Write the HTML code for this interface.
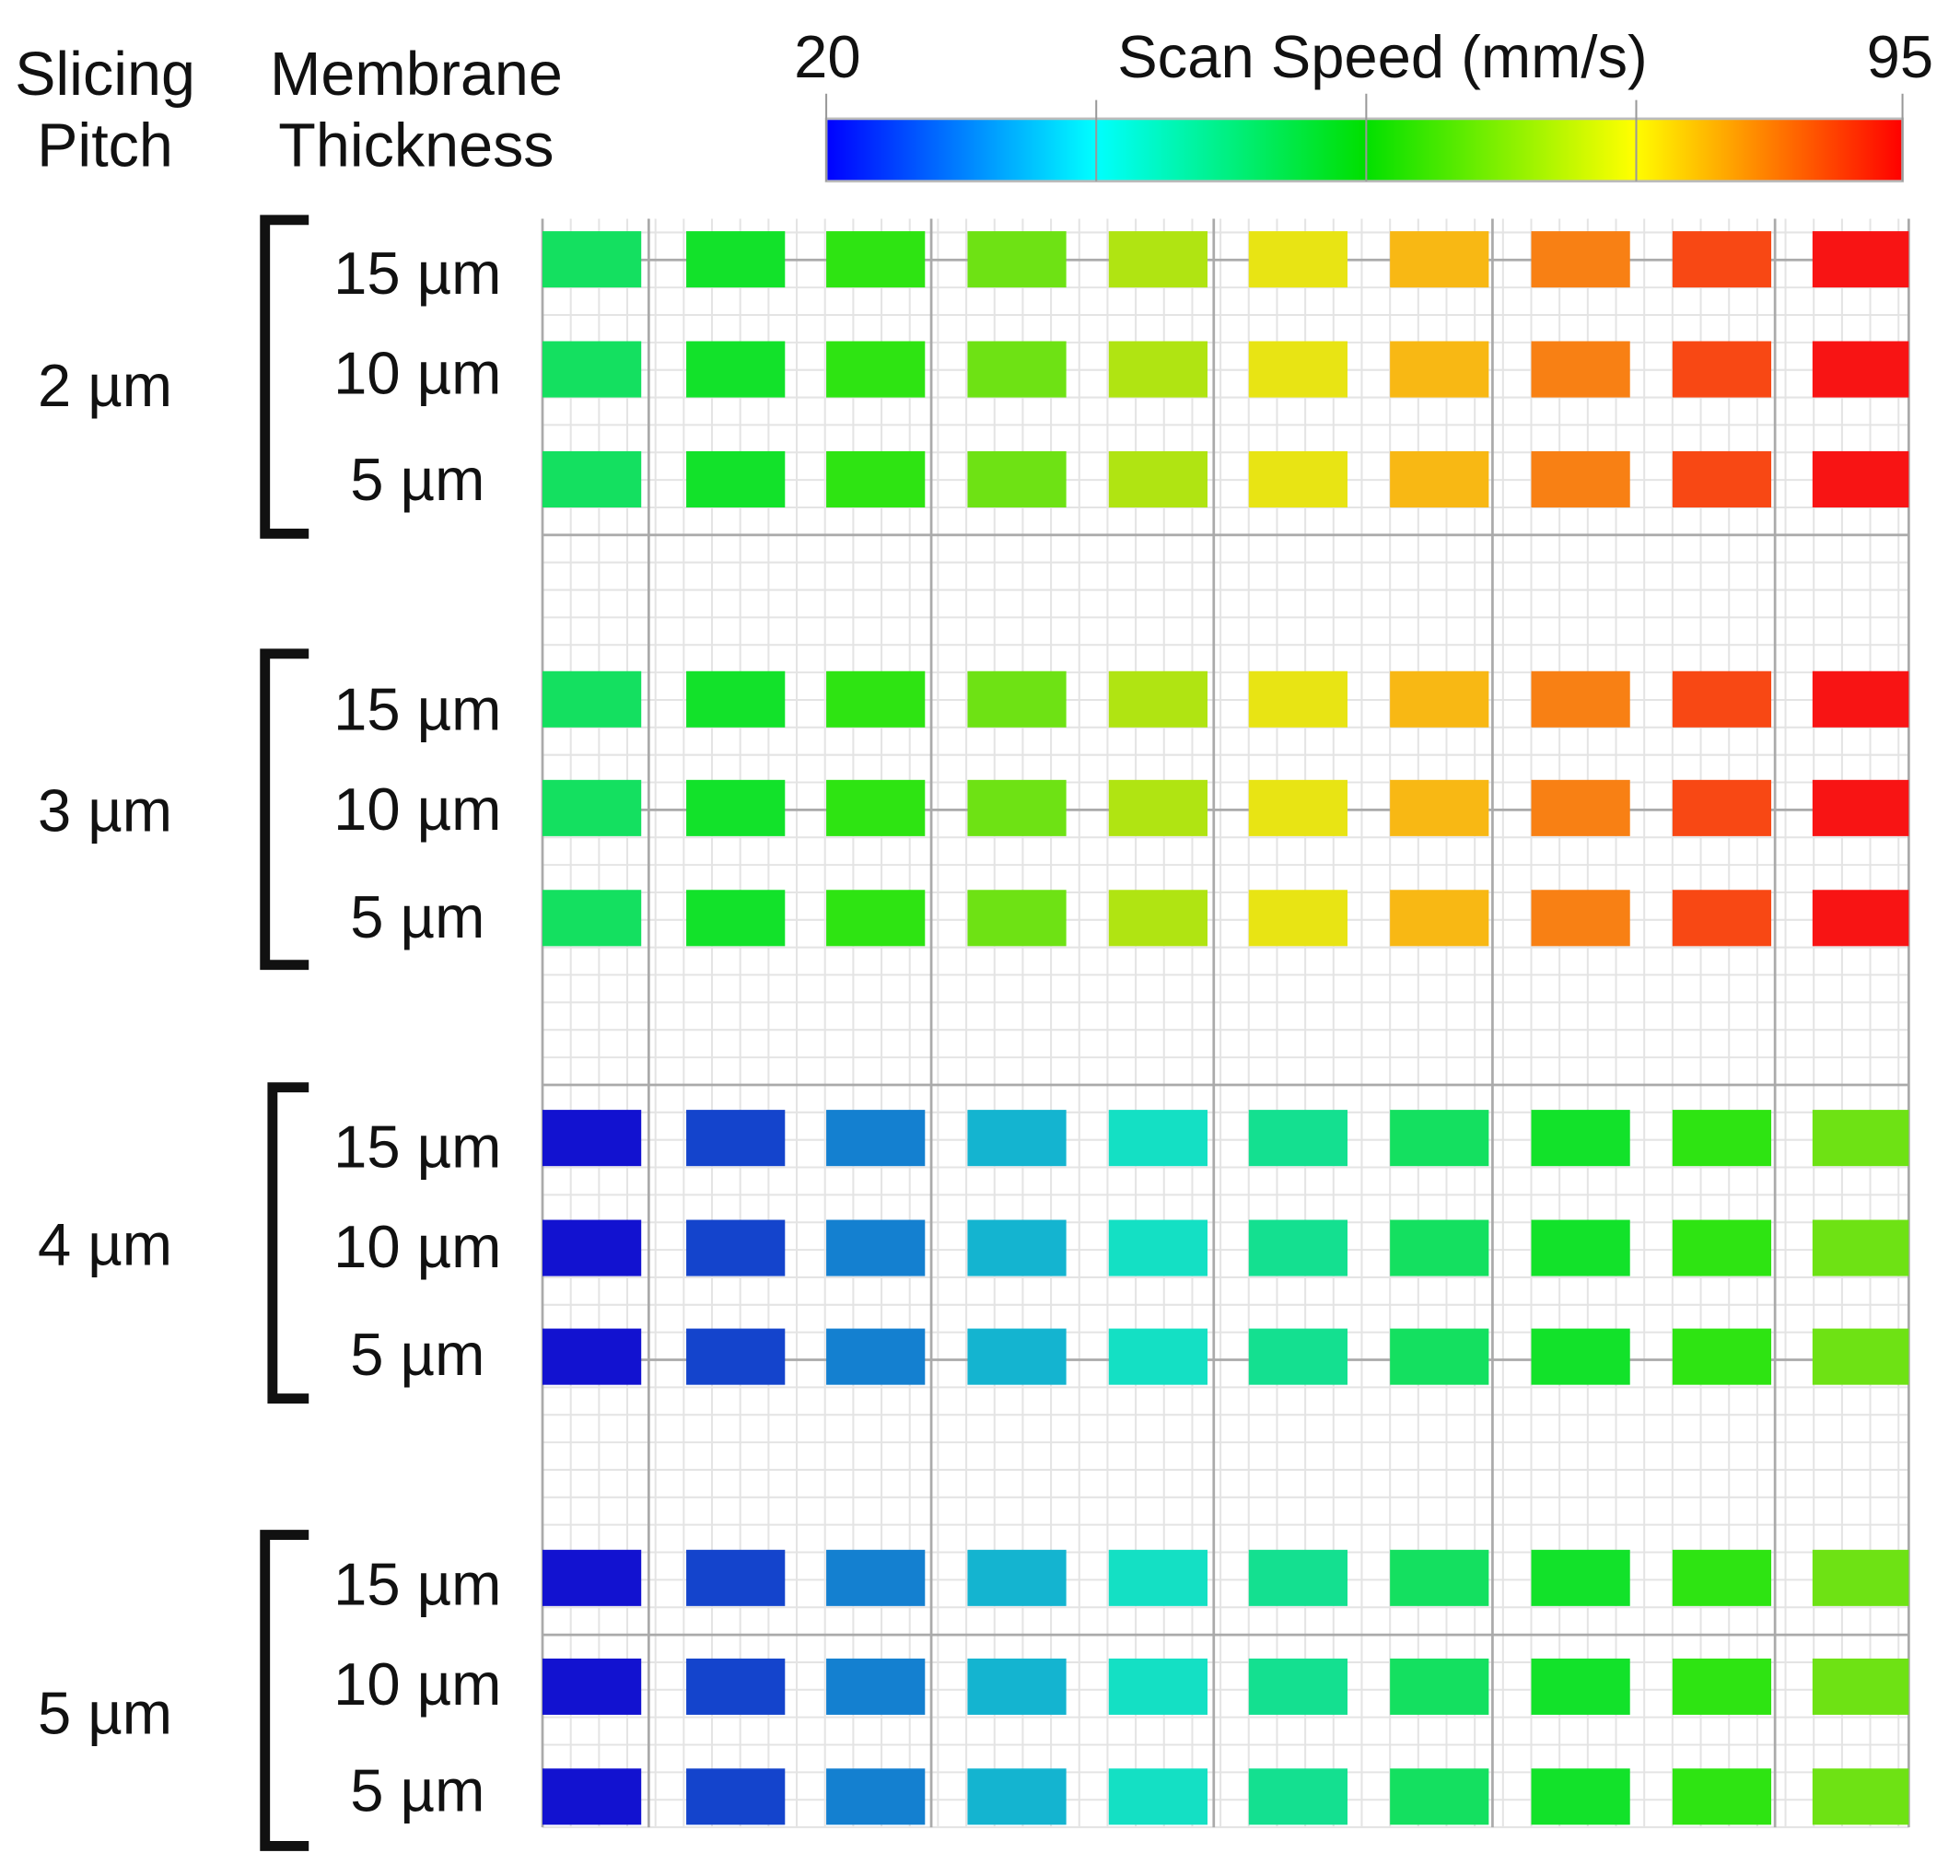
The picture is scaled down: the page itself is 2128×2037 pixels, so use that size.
<!DOCTYPE html>
<html><head><meta charset="utf-8"><style>html,body{margin:0;padding:0;background:#fff}svg{display:block}text{font-family:"Liberation Sans",sans-serif;fill:#111}</style></head>
<body>
<svg width="2128" height="2037" viewBox="0 0 1568 1501" preserveAspectRatio="none" xmlns="http://www.w3.org/2000/svg">
<defs>
<linearGradient id="cb" x1="661" x2="1522" gradientUnits="userSpaceOnUse">
<stop offset="0" stop-color="#0000ff"/><stop offset="0.25" stop-color="#00ffff"/><stop offset="0.5" stop-color="#00e000"/><stop offset="0.75" stop-color="#ffff00"/><stop offset="1" stop-color="#ff0000"/>
</linearGradient>
</defs>
<g id="grid"></g>
<g id="boxes"></g>
<rect x="661" y="95" width="861" height="50" fill="url(#cb)" stroke="#bbb" stroke-width="2"/>
<g stroke="#999" stroke-width="1.5"><line x1="661" y1="75" x2="661" y2="145"/><line x1="877" y1="80" x2="877" y2="145"/><line x1="1093" y1="75" x2="1093" y2="145"/><line x1="1309" y1="80" x2="1309" y2="145"/><line x1="1522" y1="75" x2="1522" y2="145"/></g>
<text x="662" y="62" font-size="48" text-anchor="middle">20</text>
<text x="1520" y="62" font-size="48" text-anchor="middle">95</text>
<text x="1106" y="62" font-size="48" text-anchor="middle">Scan Speed (mm/s)</text>
<text x="84" y="76" font-size="49" text-anchor="middle">Slicing</text>
<text x="84" y="133" font-size="49" text-anchor="middle">Pitch</text>
<text x="333" y="76" font-size="49" text-anchor="middle">Membrane</text>
<text x="333" y="133" font-size="49" text-anchor="middle">Thickness</text>
<g id="labels"></g>
<script>
var NS="http://www.w3.org/2000/svg";
function el(p,t,a,txt){var e=document.createElementNS(NS,t);for(var k in a)e.setAttribute(k,a[k]);if(txt)e.textContent=txt;p.appendChild(e);return e;}
var g=document.getElementById('grid');
el(g,'rect',{x:434,y:175,width:1093,height:1287,fill:'#fff'});
for(var x=434;x<=1527;x+=22.6)el(g,'line',{x1:x,y1:175,x2:x,y2:1462,stroke:'#e4e4e4','stroke-width':1.5});
for(var y=186;y<=1462;y+=22)el(g,'line',{x1:434,y1:y,x2:1527,y2:y,stroke:'#e4e4e4','stroke-width':1.5});
[208,428,648,868,1088,1308].forEach(function(y){el(g,'line',{x1:434,y1:y,x2:1527,y2:y,stroke:'#aaa','stroke-width':2});});
[434,519,745,971,1194,1420,1527].forEach(function(x){el(g,'line',{x1:x,y1:175,x2:x,y2:1462,stroke:'#aaa','stroke-width':2});});
var b=document.getElementById('boxes');
var xs=[434,549,661,774,887,999,1112,1225,1338,1450];
var c1=['#14e060','#12e22a','#2ee412','#6ee214','#b0e412','#e8e414','#f8b814','#f88014','#f84814','#f81414'];
var c2=['#1212d0','#1444cc','#1480d0','#14b4d0','#14e0c4','#14e090','#14e060','#12e22a','#2ee412','#6ee214'];
var groups=[[185,273,361],[537,624,712],[888,976,1063],[1240,1327,1415]];
groups.forEach(function(rows,gi){var cs=gi<2?c1:c2;rows.forEach(function(y){xs.forEach(function(x,i){el(b,'rect',{x:x,y:y,width:(i==9?77:79),height:45,fill:cs[i]});});});});
var L=document.getElementById('labels');
var br=[[173,430,212,'2 µm',308],[520,775,212,'3 µm',648],[867,1122,218,'4 µm',995],[1225,1480,212,'5 µm',1370]];
var lc=[[218,298,383],[567,647,733],[917,997,1083],[1267,1347,1432]];
br.forEach(function(q,gi){
 el(L,'path',{d:'M247 '+(q[0]+3)+' H'+q[2]+' V'+(q[1]-3)+' H247',fill:'none',stroke:'#111','stroke-width':8});
 el(L,'text',{x:84,y:q[4]+17,'font-size':48,'text-anchor':'middle'},q[3]);
 ['15 µm','10 µm','5 µm'].forEach(function(t,i){el(L,'text',{x:334,y:lc[gi][i]+17,'font-size':48,'text-anchor':'middle'},t);});
});
</script>
</svg>
</body></html>
